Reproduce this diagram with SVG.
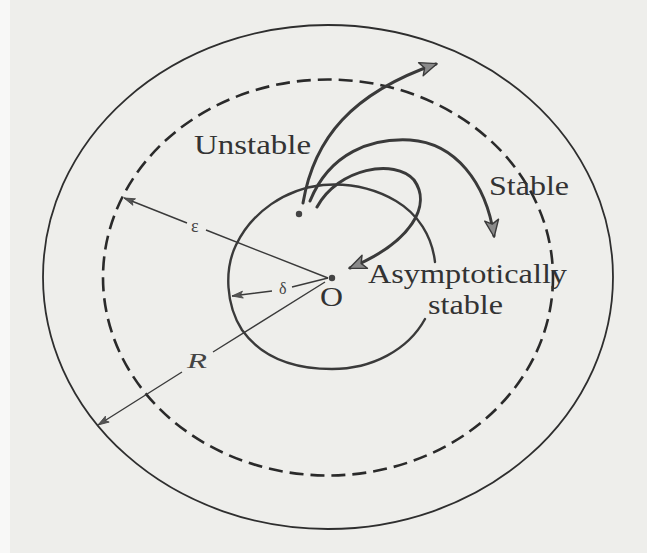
<svg xmlns="http://www.w3.org/2000/svg" width="647" height="553" viewBox="0 0 647 553">
<style>
.bg{fill:#eeeeeb}
.solid{fill:none;stroke:#2e2e2e;stroke-width:1.8}
.dash{fill:none;stroke:#2a2a2a;stroke-width:2.6;stroke-dasharray:14 7}
.traj{fill:none;stroke:#3a3a3a;stroke-width:3;stroke-linecap:round}
.rad{fill:none;stroke:#3a3a3a;stroke-width:1.4}
.lbl{font-family:"Liberation Serif","Times New Roman",serif;fill:#333;font-size:28px}
.sym{font-family:"Liberation Serif","Times New Roman",serif;fill:#444}
</style>
<defs>
<marker id="big" markerWidth="22" markerHeight="16" refX="18" refY="8" orient="auto" markerUnits="userSpaceOnUse">
<path d="M2,1 L19,8 L2,15 L6,8 Z" fill="#8a8a8a" stroke="#3a3a3a" stroke-width="1.4" stroke-linejoin="round"/>
</marker>
<marker id="small" markerWidth="14" markerHeight="10" refX="12" refY="5" orient="auto" markerUnits="userSpaceOnUse">
<path d="M1,1.5 L12,5 L1,8.5 L3.5,5 Z" fill="#555" stroke="#444" stroke-width="0.8"/>
</marker>
</defs>
<rect class="bg" x="0" y="0" width="647" height="553"/>
<rect x="0" y="0" width="10" height="553" fill="#f8f8f7"/>

<g id="outer-circle"><ellipse class="solid" cx="328" cy="277" rx="285" ry="252"/></g>
<g id="epsilon-circle"><ellipse class="dash" cx="328" cy="277.5" rx="225" ry="198"/></g>
<g id="delta-circle"><path class="traj" style="stroke-width:2.4" d="M435,262 C432,236 418,214 396,201 C372,187 348,183 323,185 C285,189 252,212 236,245 C224,270 226,305 242,330 C262,358 295,369 332,369 C372,369 408,350 425,319"/></g>

<g id="connectors">
<path class="rad" d="M328,278 L292,287 M272,291 L232,296" marker-end="url(#small)"/>
<path class="rad" d="M328,278 L206,230 M187,223 L124,198" marker-end="url(#small)"/>
<path class="rad" d="M325,282 L213,352 M182,372 L98,425" marker-end="url(#small)"/>
<path class="traj" d="M303,203 C314,138 352,93 436,64" marker-end="url(#big)"/>
<path class="traj" d="M310,201 C330,152 372,138 410,140 C455,143 486,182 494,236" marker-end="url(#big)"/>
<path class="traj" d="M317,207 C338,168 395,158 414,180 C432,205 412,242 350,268" marker-end="url(#big)"/>
</g>

<g id="origin">
<circle cx="332" cy="278" r="3.2" fill="#444"/>
<text class="lbl" x="320" y="306" textLength="23" lengthAdjust="spacingAndGlyphs">O</text>
</g>
<g id="start-point"><circle cx="299" cy="214" r="3.2" fill="#444"/></g>

<g id="labels">
<text class="lbl" x="194" y="154" font-size="27" textLength="117" lengthAdjust="spacingAndGlyphs" fill="#444">Unstable</text>
<text class="lbl" x="489" y="195" textLength="80" lengthAdjust="spacingAndGlyphs">Stable</text>
<text class="lbl" x="368" y="283" font-size="25" textLength="199" lengthAdjust="spacingAndGlyphs">Asymptotically</text>
<text class="lbl" x="428" y="314" font-size="25" textLength="75" lengthAdjust="spacingAndGlyphs">stable</text>
<text class="sym" x="191" y="232" font-size="18">ε</text>
<text class="sym" x="279" y="294" font-size="16">δ</text>
<text class="sym" x="187" y="368" font-size="22" font-style="italic" textLength="20" lengthAdjust="spacingAndGlyphs">R</text>
</g>
</svg>
